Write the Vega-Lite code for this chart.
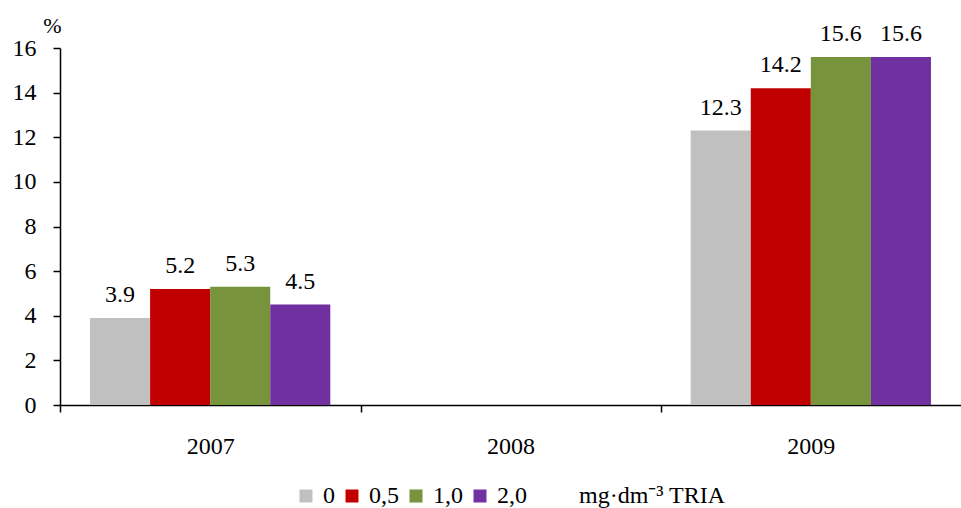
{
  "$schema": "https://vega.github.io/schema/vega-lite/v6.json",
  "autosize": "none",
  "width": 901,
  "height": 357,
  "padding": {"left": 60, "top": 48, "right": 0, "bottom": 103},
  "background": "white",
  "config": {
    "view": {"stroke": null},
    "font": "Liberation Serif",
    "axis": {"labelFont": "Liberation Serif", "titleFont": "Liberation Serif", "labelColor": "black", "titleColor": "black", "domainColor": "black", "tickColor": "black", "domainWidth": 1.5, "tickWidth": 1.5},
    "legend": {"labelFont": "Liberation Serif", "titleFont": "Liberation Serif", "labelColor": "black", "titleColor": "black"}
  },
  "data": {
    "values": [
      {"year": "2007", "dose": "0", "value": 3.9},
      {"year": "2007", "dose": "0,5", "value": 5.2},
      {"year": "2007", "dose": "1,0", "value": 5.3},
      {"year": "2007", "dose": "2,0", "value": 4.5},
      {"year": "2009", "dose": "0", "value": 12.3},
      {"year": "2009", "dose": "0,5", "value": 14.2},
      {"year": "2009", "dose": "1,0", "value": 15.6},
      {"year": "2009", "dose": "2,0", "value": 15.6}
    ]
  },
  "encoding": {
    "x": {
      "field": "year", "type": "nominal",
      "scale": {"domain": ["2007", "2008", "2009"], "paddingInner": 0, "paddingOuter": 0},
      "axis": {"title": null, "labelAngle": 0, "labelFontSize": 24, "tickSize": 7, "tickOffset": -150, "labelOffset": 150, "labelFlush": false, "labelBound": false, "labelOverlap": false, "labelAlign": "center", "labelBaseline": "alphabetic", "labelPadding": 41}
    },
    "xOffset": {
      "field": "dose", "type": "nominal",
      "scale": {"domain": ["0", "0,5", "1,0", "2,0"], "paddingInner": 0, "paddingOuter": 0.5}
    },
    "y": {
      "field": "value", "type": "quantitative",
      "scale": {"domain": [0, 16], "nice": false},
      "axis": {"title": "%", "titleAngle": 0, "titleFontSize": 22, "titleFontWeight": "normal", "titleX": -8, "titleY": -16, "titleAlign": "center", "titleBaseline": "alphabetic", "values": [0, 2, 4, 6, 8, 10, 12, 14, 16], "labelFontSize": 24, "tickSize": 7, "labelPadding": 17, "grid": false}
    }
  },
  "layer": [
    {
      "mark": {"type": "bar"},
      "encoding": {
        "color": {
          "field": "dose", "type": "nominal",
          "scale": {"domain": ["0", "0,5", "1,0", "2,0"], "range": ["#c0c0c0", "#c00000", "#77933c", "#7030a0"]},
          "legend": {
            "title": "mg·dm⁻³ TRIA",
            "orient": "none",
            "direction": "horizontal",
            "legendX": 234,
            "legendY": 436,
            "titleOrient": "right",
            "titleFontSize": 24,
            "titleFontWeight": "normal",
            "titlePadding": 52,
            "titleBaseline": "middle",
            "labelFontSize": 24,
            "symbolType": "square",
            "symbolSize": 169,
            "symbolStrokeWidth": 0,
            "symbolOpacity": 1,
            "columnPadding": 5,
            "labelOffset": 5
          }
        }
      }
    },
    {
      "mark": {"type": "text", "fontSize": 24, "baseline": "alphabetic", "dy": -16, "font": "Liberation Serif", "color": "black"},
      "encoding": {
        "text": {"field": "value", "type": "quantitative", "format": ".1f"}
      }
    }
  ]
}
